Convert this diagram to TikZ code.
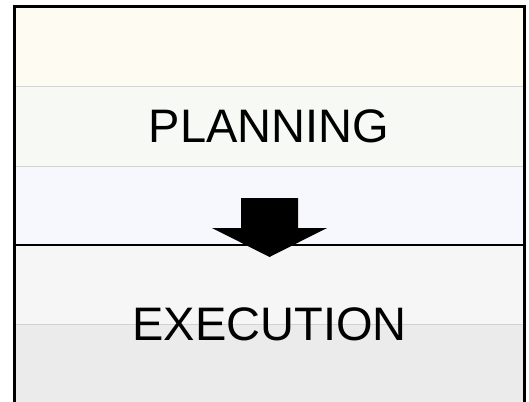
\documentclass[tikz,border=0pt]{standalone}
\usepackage{fontspec}
\setmainfont{Liberation Sans}
\definecolor{bandA}{HTML}{FEFBF3}
\definecolor{bandB}{HTML}{F7F9F4}
\definecolor{bandC}{HTML}{F7F8FD}
\definecolor{bandD}{HTML}{F6F6F6}
\definecolor{bandE}{HTML}{EBEBEB}
\definecolor{sepgray}{HTML}{D2D2D2}
\tikzset{
  band/.style={fill=#1, draw=none},
  sep/.style={draw=sepgray, line width=1pt},
  phase/.style={font=\fontsize{47}{56}\selectfont, text=black, inner sep=0pt, anchor=center},
  blockarrow/.style={fill=black, draw=none}
}
\begin{document}
\begin{tikzpicture}[x=1pt, y=-1pt]
  \useasboundingbox (0,0) rectangle (529,401);
  % colour bands
  \fill[band=bandA] (14,7)   rectangle (524,87);
  \fill[band=bandB] (14,87)  rectangle (524,166);
  \fill[band=bandC] (14,166) rectangle (524,245);
  \fill[band=bandD] (14,245) rectangle (524,324);
  \fill[band=bandE] (14,324) rectangle (524,410);
  % thin separators
  \draw[sep] (14,87)  -- (524,87);
  \draw[sep] (14,166) -- (524,166);
  \draw[sep] (14,324) -- (524,324);
  % phase labels
  \node[phase] (planning)  at (269,126.5) {PLANNING};
  \node[phase] (execution) at (269.5,324) {EXECUTION};
  % boundary between the phases
  \coordinate (bl) at (14,245);
  \coordinate (br) at (524,245);
  \draw[line width=2.2pt] (bl) -- (br);
  % block arrow from planning down to execution
  \fill[blockarrow] (241,198) -- (298,198) -- (298,228) -- (327,228)
    -- (269.5,257) -- (212,228) -- (241,228) -- cycle;
  % outer frame, open at the bottom edge
  \draw[line width=3pt] (14,420) -- (14,7) -- (524,7) -- (524,420);
\end{tikzpicture}
\end{document}
